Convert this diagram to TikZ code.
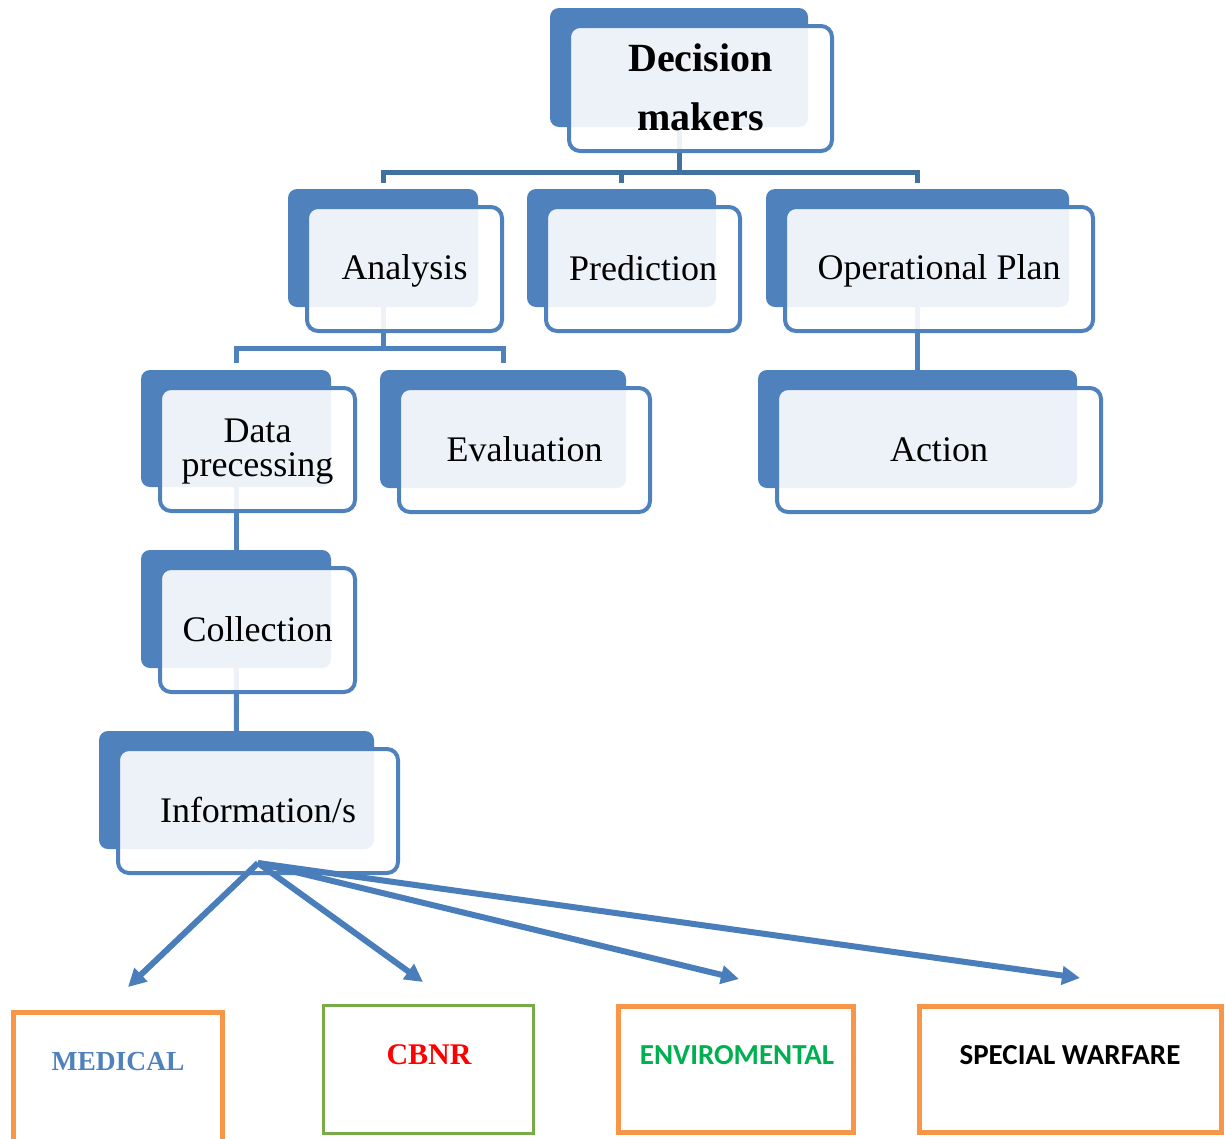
\documentclass[tikz,border=0pt]{standalone}
\usepackage{fontspec}
\setmainfont{Liberation Serif}
\newfontfamily\calib{Carlito}
\usetikzlibrary{arrows.meta,calc}
\pgfdeclarelayer{bg}
\pgfsetlayers{bg,main}
\definecolor{sblue}{HTML}{4F81BD}
\definecolor{sdark}{HTML}{41719C}
\definecolor{sarrow}{HTML}{4A7EBB}
\definecolor{sorange}{HTML}{F79646}
\definecolor{sgreen}{HTML}{77AC48}
\definecolor{tgreen}{HTML}{00B050}
\newcommand\lblstrut{\rule[-7pt]{0pt}{36pt}}
\newcommand\twobox[6]{%
  \node[backbox, minimum width={#4-#2}, minimum height={#5-#3}] (#1b) at ({(#2+#4)/2},{(#3+#5)/2}) {};
  \node[frontbox, minimum width={#4-#2+5}, minimum height={#5-#3+6}] (#1) at ({(#2+#4)/2+21.5},{(#3+#5)/2+21}) {#6};}
\begin{document}
\begin{tikzpicture}[x=1pt,y=-1pt,
  backbox/.style={fill=sblue, rounded corners=9pt, inner sep=0pt, outer sep=0pt},
  frontbox/.style={draw=sblue, line width=4pt, fill=white, fill opacity=0.9, text opacity=1, draw opacity=1,
    rounded corners=11pt, inner sep=0pt, outer sep=0pt, align=center, font=\fontsize{36}{34}\selectfont},
  treedark/.style={draw=sdark, line width=5pt},
  treelink/.style={draw=sblue, line width=5pt},
  infoarrow/.style={draw=sarrow, line width=6pt, -{Triangle[length=18pt,width=18pt]}},
  obox/.style={draw=sorange, line width=5pt, inner sep=0pt},
  gbox/.style={draw=sgreen, line width=3pt, inner sep=0pt},
  lbl/.style={inner sep=0pt, anchor=center}
]
\useasboundingbox (0,0) rectangle (1226,1138);
% boxes
\twobox{dec}{550}{8}{808}{127}{}
\twobox{ana}{288}{189}{478}{307}{\lblstrut Analysis}
\twobox{pre}{527}{189}{716}{307}{\lblstrut Prediction}
\twobox{op}{766}{189}{1069}{307}{\lblstrut Operational Plan}
\twobox{dat}{141}{370}{331}{487}{\rule{0pt}{28pt}Data\\precessing}
\twobox{eva}{380}{370}{626}{488}{\lblstrut Evaluation}
\twobox{act}{758}{370}{1077}{488}{\lblstrut Action}
\twobox{col}{141}{550}{331}{668}{\lblstrut Collection}
\twobox{inf}{99}{731}{374}{849}{\lblstrut Information/s}
\node[lbl, align=center, font=\fontsize{40}{59}\selectfont\bfseries] (dect) at ($(dec)+(0,-1)$) {Decision\\makers};
% connectors behind the boxes
\begin{pgfonlayer}{bg}
  \coordinate (decbus) at ($(decb.center)+(0,105)$);
  \draw[treedark] (decb.center) -- (decbus);
  \draw[treedark, line cap=rect] (anab.north |- decbus) -- (opb.north |- decbus);
  \draw[treedark] (anab.north |- decbus) -- ($(anab.north)+(0,-6)$);
  \draw[treedark] (preb.north |- decbus) -- ($(preb.north)+(0,-6)$);
  \draw[treedark] (opb.north |- decbus) -- ($(opb.north)+(0,-6)$);
  \coordinate (anabus) at ($(anab.south)+(0,41)$);
  \draw[treelink] (anab.center) -- (anabus);
  \draw[treelink, line cap=rect] (datb.north |- anabus) -- (evab.north |- anabus);
  \draw[treelink] (datb.north |- anabus) -- ($(datb.north)+(0,-7)$);
  \draw[treelink] (evab.north |- anabus) -- ($(evab.north)+(0,-7)$);
  \draw[treelink] (opb.center) -- (actb.north);
  \draw[treelink] (datb.center) -- (colb.north);
  \draw[treelink] (colb.center) -- (infb.north);
\end{pgfonlayer}
% bottom boxes
\node[obox, minimum width=209, minimum height=200] (med) at (118,1112.5) {};
\node[gbox, minimum width=210, minimum height=128] (cbnr) at (428.5,1069.5) {};
\node[obox, minimum width=235, minimum height=126] (env) at (736,1069.5) {};
\node[obox, minimum width=302, minimum height=126] (spw) at (1070.5,1069.5) {};
\node[lbl, text=sblue, font=\fontsize{27.5}{30}\selectfont\bfseries] (medt) at (118,1062) {MEDICAL};
\node[lbl, text=red, font=\fontsize{30}{32}\selectfont\bfseries] (cbnrt) at (429,1055) {CBNR};
\node[lbl, text=tgreen, font=\calib\fontsize{29}{30}\selectfont\bfseries] (envt) at (737,1055) {ENVIROMENTAL};
\node[lbl, text=black, font=\calib\fontsize{29}{30}\selectfont\bfseries] (spwt) at (1070,1055) {SPECIAL WARFARE};
% arrows from Information/s
\coordinate (src) at ($(inf.south)+(0,-10)$);
\coordinate (tm) at (128,987);
\coordinate (tc) at (423,982);
\coordinate (te) at (739,979);
\coordinate (ts) at (1080,978);
\draw[infoarrow] (src) -- (tm);
\draw[infoarrow] (src) -- (tc);
\draw[infoarrow] (src) -- (te);
\draw[infoarrow] (src) -- (ts);
\end{tikzpicture}
\end{document}
